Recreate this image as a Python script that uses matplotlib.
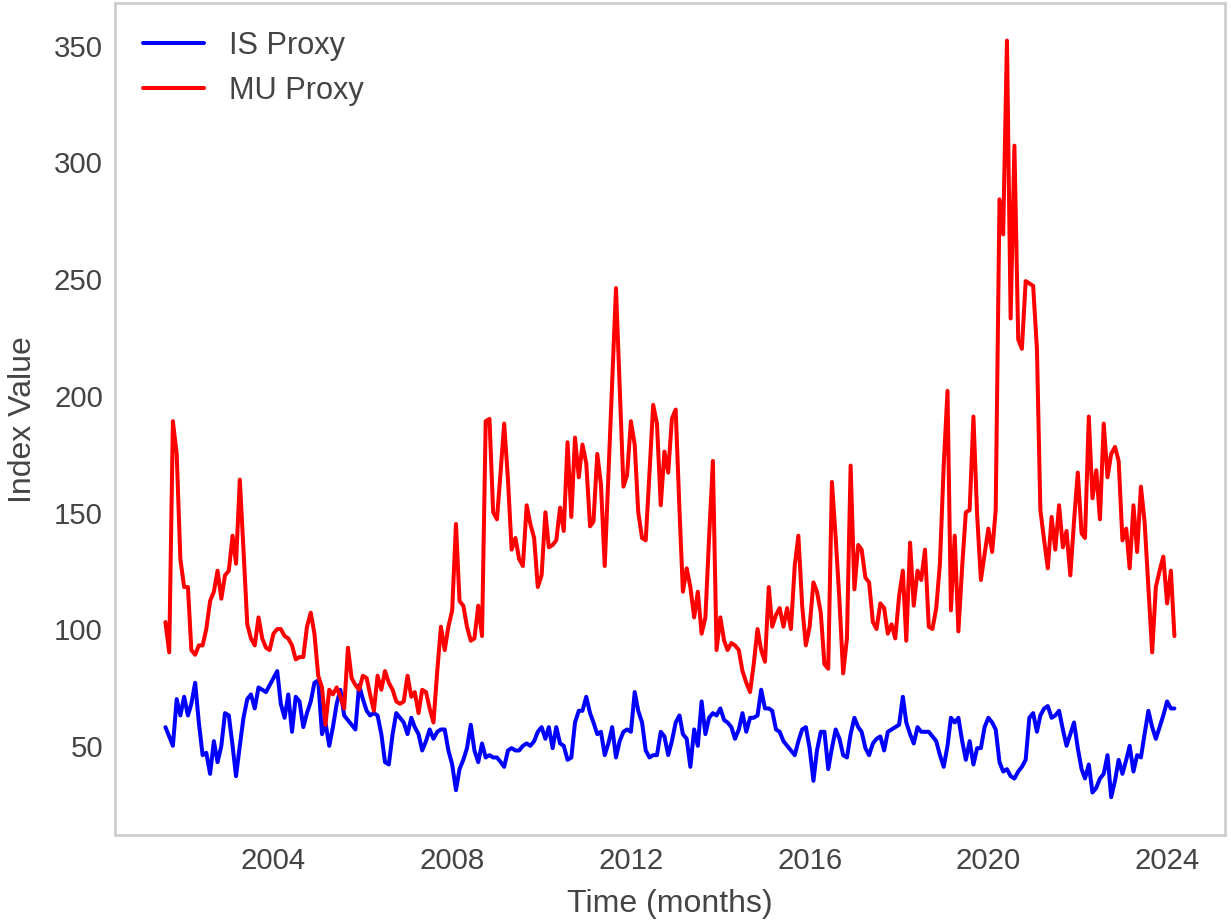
import matplotlib
matplotlib.use("Agg")
import matplotlib.pyplot as plt
import pandas as pd

# monthly proxies
start_month = "2001-08-01"

is_proxy = [
    58, 54, 50, 70, 63, 71, 63, 68, 77, 60, 46, 47, 38, 52, 43, 50, 64, 63, 50, 37,
    50, 62, 70, 72, 66, 75, 74, 73, 76, 79, 82, 68, 62, 72, 56, 71, 69, 58, 64, 69,
    77, 78, 55, 60, 50, 58, 68, 74, 63, 61, 59, 57, 76, 70, 65, 63, 64, 63, 55, 43,
    42, 55, 64, 62, 60, 55, 62, 58, 55, 48, 52, 57, 53, 56, 57, 57, 48, 42, 31, 40,
    44, 49, 59, 48, 43, 51, 45, 46, 45, 45, 43, 41, 48, 49, 48, 48, 50, 51, 50, 52,
    56, 58, 53, 58, 49, 58, 51, 50, 44, 45, 60, 65, 65, 71, 64, 60, 55, 56, 46, 51,
    58, 45, 52, 56, 57, 56, 73, 65, 60, 48, 45, 46, 46, 56, 54, 46, 52, 60, 63, 55,
    53, 41, 57, 50, 69, 55, 62, 64, 63, 66, 61, 60, 58, 53, 57, 64, 56, 62, 62, 63,
    74, 66, 66, 65, 57, 56, 52, 50, 48, 46, 52, 57, 58, 49, 35, 48, 56, 56, 40, 49,
    57, 53, 46, 45, 55, 62, 58, 56, 49, 46, 51, 53, 54, 48, 56, 57, 58, 59, 71, 60,
    55, 51, 58, 56, 56, 56, 54, 52, 46, 41, 50, 62, 60, 62, 52, 44, 52, 42, 49, 49,
    58, 62, 60, 57, 43, 39, 40, 37, 36, 39, 41, 44, 62, 64, 56, 63, 66, 67, 62, 63,
    65, 57, 50, 55, 60, 49, 40, 36, 42, 30, 32, 36, 38, 46, 28, 35, 44, 38, 44, 50,
    39, 46, 45, 55, 65, 58, 53, 58, 63, 69, 66, 66,
]

mu_proxy = [
    103, 90, 189, 175, 130, 118, 118, 91, 89, 93, 93, 100, 112, 116, 125, 113, 123, 125, 140, 128,
    164, 134, 102, 96, 93, 105, 96, 92, 91, 98, 100, 100, 97, 96, 93, 87, 88, 88, 101, 107,
    98, 80, 75, 59, 74, 72, 75, 71, 66, 92, 79, 76, 74, 80, 79, 72, 65, 80, 74, 82,
    77, 74, 69, 68, 69, 80, 71, 73, 64, 74, 73, 66, 60, 82, 101, 91, 101, 108, 145, 112,
    110, 101, 95, 96, 110, 97, 189, 190, 150, 147, 168, 188, 164, 134, 139, 130, 127, 153, 145, 139,
    118, 123, 150, 135, 136, 138, 152, 142, 180, 148, 182, 165, 179, 171, 144, 146, 175, 162, 127, 166,
    206, 246, 204, 161, 166, 189, 179, 150, 139, 138, 167, 196, 188, 153, 176, 167, 190, 194, 151, 116,
    126, 118, 105, 116, 98, 105, 139, 172, 91, 105, 95, 91, 94, 93, 91, 82, 77, 73, 85, 100,
    91, 86, 118, 101, 106, 109, 101, 109, 100, 127, 140, 110, 93, 101, 120, 116, 107, 85, 83, 163,
    139, 112, 81, 96, 170, 117, 136, 134, 122, 120, 103, 100, 111, 109, 98, 102, 96, 114, 125, 95,
    137, 110, 125, 121, 134, 101, 100, 109, 128, 170, 202, 108, 140, 99, 127, 150, 151, 191, 149,
    121, 132, 143, 133, 151, 284, 269, 352, 233, 307, 224, 220, 249, 248, 247, 220, 151, 138, 126, 148,
    134, 153, 135, 142, 123, 146, 167, 141, 139, 191, 156, 168, 147, 188, 165, 175, 178, 172, 138, 143,
    126, 153, 133, 161, 146, 118, 90, 118, 125, 131, 111, 125, 97,
]

dates = pd.date_range(start_month, periods=len(mu_proxy), freq="MS")

plt.style.use("seaborn-v0_8-whitegrid")
TXT = "#444444"
plt.rcParams.update({
    "axes.labelsize": 12,
    "xtick.labelsize": 11,
    "ytick.labelsize": 11,
    "legend.fontsize": 11.5,
    "text.color": TXT,
    "axes.labelcolor": TXT,
    "xtick.color": TXT,
    "ytick.color": TXT,
})

fig, ax = plt.subplots(figsize=(6.4, 4.8), dpi=192.35)
fig.subplots_adjust(left=0.0934, right=0.995, bottom=0.0953, top=0.9967)

ax.plot(dates, is_proxy, color="blue", lw=1.5, label="IS Proxy")
ax.plot(dates, mu_proxy, color="red", lw=1.5, label="MU Proxy")

ax.set_xlabel("Time (months)", labelpad=5)
ax.set_ylabel("Index Value", labelpad=6)
ax.tick_params(axis="both", pad=4.5)
ax.grid(False)
ax.legend(loc="upper left")

fig.savefig("out.png", dpi=192.35)
